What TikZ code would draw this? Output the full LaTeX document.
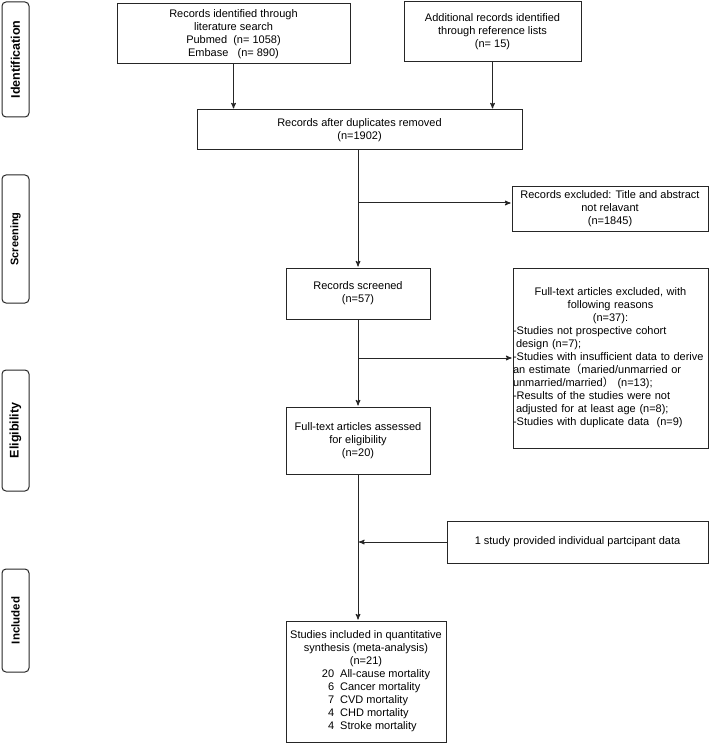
\documentclass[tikz,border=0pt]{standalone}
\usepackage{fontspec}
\setmainfont{Liberation Sans}
\newfontfamily\cjk{Noto Sans CJK SC}
\usetikzlibrary{arrows,positioning}
\tikzset{
    %Define standard arrow tip
    >=stealth',
    %Define style for boxes
    punkt/.style={
           rectangle,
           draw=black!85, line width=1pt,
           inner sep=1pt,
           align=center,
           font=\fontsize{11}{13}\selectfont},
    %Define style for the stage labels at the left
    stage/.style={
           rectangle,
           rounded corners=4pt,
           draw=black!85, line width=1pt,
           rotate=90,
           minimum height=27pt,
           inner sep=0pt},
    % Define arrow style
    pil/.style={
           ->,
           draw=black!85,
           line width=1pt,
           shorten >=1pt}
}

\begin{document}
\begin{tikzpicture}[x=1pt,y=-1pt]
\useasboundingbox (0,0) rectangle (709,743);
%stage labels
\node[stage, minimum width=115pt, font=\bfseries\fontsize{12.5}{13}\selectfont] (lab1) at (15.5,59.5) {Identification};
\node[stage, minimum width=128pt, font=\bfseries\fontsize{11}{13}\selectfont] (lab2) at (15.5,239) {Screening};
\node[stage, minimum width=121pt, font=\bfseries\fontsize{12.5}{13}\selectfont] (lab3) at (15.5,430.5) {Eligibility};
\node[stage, minimum width=103pt, font=\bfseries\fontsize{11.5}{13}\selectfont] (lab4) at (15.5,620.5) {Included};
%identification
\node[punkt, minimum width=233pt, minimum height=60pt] (search) at (233.5,34)
  {Records identified through\\literature search\\Pubmed\ \ (n= 1058)\\Embase\ \ \ (n= 890)};
\node[punkt, minimum width=177pt, minimum height=60pt] (refs) at (492.5,32)
  {Additional records identified\\through reference lists\\(n= 15)};
\node[punkt, minimum width=325pt, minimum height=40pt] (dupl) at (359.5,130)
  {Records after duplicates removed\\(n=1902)};
%screening
\node[punkt, minimum width=196pt, minimum height=44pt] (excl1) at (610,209)
  {Records excluded: Title and abstract\\not relavant\\(n=1845)};
\node[punkt, minimum width=144pt, minimum height=51pt] (screened) at (358,293.5)
  {Records screened\\(n=57)};
%eligibility
\node[punkt, align=left, text width=195pt, inner xsep=0pt, minimum height=180pt] (excl2) at (610.5,358)
  {\noindent\makebox[\hsize]{Full-text articles excluded, with}\\
   \makebox[\hsize]{following reasons}\\
   \makebox[\hsize]{(n=37):}\\
   -Studies not prospective cohort\\
   \hspace*{3pt}design (n=7);\\
   -Studies with insufficient data to derive\\
   an estimate{\cjk （}maried/unmarried or\\
   unmarried/married{\cjk ）} (n=13);\\
   -Results of the studies were not\\
   \hspace*{3pt}adjusted for at least age (n=8);\\
   -Studies with duplicate data\ \ (n=9)};
\node[punkt, minimum width=144pt, minimum height=67pt] (assessed) at (358,440.5)
  {Full-text articles assessed\\for eligibility\\(n=20)};
%included
\node[punkt, minimum width=261pt, minimum height=42pt] (ipd) at (577.5,542)
  {1 study provided individual partcipant data};
\node[punkt, minimum width=160pt, minimum height=121pt] (included) at (366,681.5)
  {Studies included in quantitative\\synthesis (meta-analysis)\\(n=21)\\
   \hspace*{20pt}\begin{tabular}[t]{@{}r@{\hspace{6pt}}l@{}}
   20 & All-cause mortality\\
   6 & Cancer mortality\\
   7 & CVD mortality\\
   4 & CHD mortality\\
   4 & Stroke mortality
   \end{tabular}};
%branch points
\coordinate (split1) at (358,203);
\coordinate (split2) at (358,358);
\coordinate (merge) at (358,542);
%arrows
\draw[pil] (search.south) -- (search.south |- dupl.north);
\draw[pil] (refs.south) -- (refs.south |- dupl.north);
\draw[pil] (screened |- dupl.south) -- (screened.north);
\draw[pil] (split1) -- (split1 -| excl1.west);
\draw[pil] (screened.south) -- (assessed.north);
\draw[pil] (split2) -- (split2 -| excl2.west);
\draw[pil] (assessed.south) -- (assessed.south |- included.north);
\draw[pil] (ipd.west) -- (merge);
\end{tikzpicture}
\end{document}
